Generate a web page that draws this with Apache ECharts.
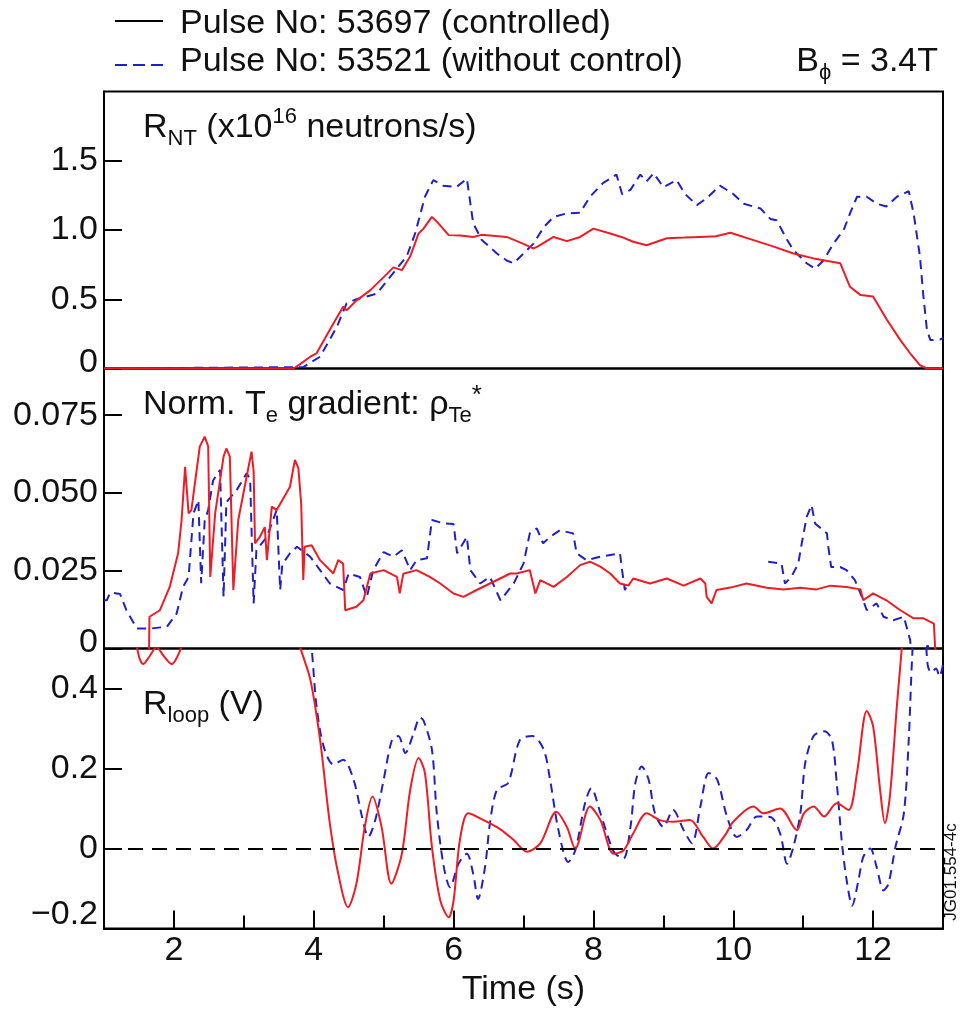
<!DOCTYPE html>
<html><head><meta charset="utf-8">
<script src="https://cdn.jsdelivr.net/npm/echarts@6/dist/echarts.min.js"></script>
<style>html,body{margin:0;padding:0;background:#fff}#c{width:964px;height:1009px}</style>
</head><body><div id="c"></div>
<script>
// ---------- data (time in s, value) ----------
const timeMajorTicks = [2, 4, 6, 8, 10, 12];
const timeMinorTicks = [3, 5, 7, 9, 11];
const rntTicks = [0, 0.5, 1.0, 1.5];
const rntTickLabels = ['0', '0.5', '1.0', '1.5'];
const gradTicks = [0, 0.025, 0.05, 0.075];
const gradTickLabels = ['0', '0.025', '0.050', '0.075'];
const loopTicks = [-0.2, 0, 0.2, 0.4];
const loopTickLabels = ['\u22120.2', '0', '0.2', '0.4'];

const rntControlled = [[1,0],[2,0],[3,0],[3.71,0],[3.8,0.03],[3.95,0.085],[4.04,0.11],[4.23,0.28],[4.42,0.446],[4.47,0.42],[4.61,0.49],[4.81,0.566],[5.0,0.66],[5.14,0.73],[5.26,0.71],[5.38,0.81],[5.5,0.975],[5.57,1.01],[5.69,1.095],[5.78,1.05],[5.93,0.963],[6.1,0.96],[6.28,0.95],[6.4,0.965],[6.52,0.96],[6.76,0.95],[7.0,0.9],[7.14,0.867],[7.2,0.88],[7.43,0.95],[7.62,0.92],[7.81,0.95],[8.0,1.01],[8.24,0.975],[8.4,0.95],[8.57,0.915],[8.76,0.89],[9.05,0.94],[9.3,0.945],[9.53,0.95],[9.75,0.955],[9.96,0.98],[10.29,0.927],[10.58,0.88],[10.86,0.83],[11.15,0.795],[11.53,0.76],[11.67,0.59],[11.82,0.53],[12.0,0.52],[12.2,0.35],[12.39,0.205],[12.53,0.11],[12.67,0.025],[12.77,0],[13,0]];
const rntUncontrolled = [[1,0],[3.85,0.01],[4.09,0.085],[4.33,0.3],[4.47,0.47],[4.61,0.5],[4.9,0.54],[5.09,0.66],[5.33,0.81],[5.45,0.975],[5.59,1.24],[5.71,1.36],[5.85,1.32],[6.04,1.31],[6.19,1.37],[6.28,1.05],[6.4,0.93],[6.62,0.83],[6.76,0.78],[6.86,0.76],[7.0,0.83],[7.14,0.9],[7.29,1.02],[7.43,1.095],[7.62,1.12],[7.81,1.125],[7.95,1.24],[8.14,1.34],[8.33,1.4],[8.41,1.26],[8.53,1.29],[8.67,1.4],[8.76,1.35],[8.86,1.41],[9.0,1.31],[9.19,1.36],[9.31,1.26],[9.48,1.18],[9.62,1.23],[9.81,1.32],[10.0,1.26],[10.15,1.19],[10.39,1.155],[10.53,1.08],[10.62,1.07],[10.77,0.93],[10.86,0.855],[11.05,0.76],[11.17,0.72],[11.29,0.78],[11.43,0.9],[11.58,1.0],[11.67,1.12],[11.77,1.24],[11.91,1.24],[12.05,1.19],[12.19,1.17],[12.34,1.24],[12.51,1.28],[12.58,1.12],[12.67,0.81],[12.72,0.52],[12.77,0.28],[12.82,0.205],[12.96,0.21],[13,0.22]];

const gradControlled = [[1.64,-0.01],[1.65,0.0102],[1.8,0.0123],[1.94,0.0198],[2.06,0.0306],[2.11,0.0413],[2.16,0.0584],[2.21,0.0434],[2.25,0.0445],[2.3,0.0531],[2.37,0.0649],[2.44,0.0681],[2.49,0.065],[2.52,0.023],[2.59,0.0434],[2.71,0.0617],[2.75,0.0643],[2.8,0.0617],[2.85,0.0188],[2.92,0.0413],[3.04,0.0552],[3.11,0.0633],[3.14,0.057],[3.16,0.0338],[3.23,0.0359],[3.3,0.039],[3.33,0.0284],[3.4,0.0456],[3.47,0.0445],[3.66,0.052],[3.73,0.0606],[3.78,0.058],[3.82,0.0467],[3.85,0.022],[3.87,0.0327],[3.97,0.0332],[4.09,0.0284],[4.28,0.0241],[4.35,0.0284],[4.42,0.0273],[4.45,0.0123],[4.61,0.0134],[4.71,0.0155],[4.81,0.0241],[5.0,0.0252],[5.19,0.023],[5.23,0.0177],[5.28,0.024],[5.47,0.0252],[5.66,0.023],[5.81,0.0209],[6.0,0.0177],[6.14,0.0166],[6.33,0.0188],[6.52,0.0209],[6.81,0.0241],[6.9,0.0241],[7.09,0.0252],[7.17,0.0177],[7.24,0.022],[7.43,0.0198],[7.62,0.023],[7.81,0.0268],[7.95,0.0279],[8.1,0.0263],[8.24,0.0241],[8.38,0.0209],[8.5,0.0202],[8.57,0.0225],[8.81,0.0209],[9.05,0.0225],[9.29,0.0202],[9.53,0.0225],[9.6,0.0209],[9.62,0.0166],[9.69,0.0145],[9.76,0.0188],[10.0,0.0198],[10.19,0.0209],[10.48,0.0195],[10.72,0.019],[10.96,0.0195],[11.19,0.019],[11.39,0.0202],[11.62,0.0198],[11.82,0.019],[11.86,0.0155],[12.0,0.0177],[12.19,0.0155],[12.39,0.0123],[12.58,0.0097],[12.72,0.0097],[12.87,0.008],[12.89,-0.001],[12.9,-0.01]];
const gradUncontrolled = [[1,0.0155],[1.04,0.0155],[1.09,0.018],[1.23,0.0175],[1.32,0.0123],[1.47,0.0064],[1.66,0.0064],[1.9,0.007],[2.04,0.0113],[2.13,0.0198],[2.21,0.023],[2.28,0.0434],[2.35,0.0477],[2.39,0.021],[2.44,0.041],[2.49,0.0445],[2.56,0.054],[2.66,0.0574],[2.71,0.0166],[2.75,0.047],[2.9,0.051],[3.04,0.0563],[3.09,0.0545],[3.14,0.0145],[3.18,0.0316],[3.33,0.0359],[3.47,0.0445],[3.52,0.0188],[3.55,0.027],[3.66,0.0306],[3.76,0.0327],[3.95,0.0295],[4.09,0.0252],[4.23,0.0209],[4.42,0.0188],[4.5,0.0241],[4.66,0.023],[4.76,0.0166],[4.85,0.0252],[5.0,0.031],[5.14,0.0295],[5.26,0.0316],[5.38,0.0252],[5.47,0.0284],[5.62,0.029],[5.69,0.0413],[5.86,0.0402],[6.0,0.04],[6.05,0.0306],[6.19,0.0359],[6.24,0.0252],[6.38,0.0209],[6.52,0.023],[6.67,0.0155],[6.86,0.0209],[7.0,0.0273],[7.09,0.037],[7.19,0.0386],[7.28,0.0338],[7.38,0.0359],[7.52,0.038],[7.71,0.037],[7.76,0.0306],[7.9,0.0284],[8.1,0.0295],[8.38,0.0306],[8.41,0.0252],[8.45,0.0188],[8.5,0.021],[9.5,'-'],[10.5,0.0279],[10.69,0.0273],[10.74,0.0209],[10.83,0.023],[10.93,0.0273],[10.98,0.0338],[11.05,0.0423],[11.12,0.0461],[11.17,0.0402],[11.34,0.037],[11.36,0.0327],[11.4,0.0262],[11.53,0.0262],[11.62,0.0252],[11.74,0.022],[11.84,0.0166],[11.91,0.0123],[12.05,0.0145],[12.15,0.0102],[12.29,0.0091],[12.44,0.0102],[12.53,0.0027],[12.56,-0.004],[12.7,-0.003],[12.78,0.001],[12.85,-0.004],[13,-0.005]];

const loopControlled = [[1.45,0.53],[1.5,0.48],[1.56,0.461],[1.65,0.48],[1.75,0.503],[1.86,0.48],[1.97,0.461],[2.05,0.48],[2.11,0.507],[2.3,0.65],[3.0,0.75],[3.6,0.65],[3.8,0.507],[3.95,0.423],[4.09,0.272],[4.23,0.063],[4.35,-0.063],[4.49,-0.147],[4.61,-0.088],[4.73,0.054],[4.84,0.13],[4.97,0.054],[5.11,-0.088],[5.26,-0.013],[5.38,0.147],[5.5,0.226],[5.59,0.189],[5.69,0.004],[5.81,-0.13],[5.93,-0.172],[6.0,-0.13],[6.09,0.021],[6.21,0.088],[6.43,0.071],[6.67,0.048],[6.86,0.021],[7.05,-0.008],[7.24,0.013],[7.47,0.092],[7.62,0.054],[7.74,0.0],[7.95,0.105],[8.1,0.071],[8.29,-0.013],[8.43,-0.005],[8.57,0.038],[8.76,0.088],[8.95,0.071],[9.14,0.067],[9.38,0.071],[9.57,0.029],[9.71,0.0],[9.9,0.038],[10.0,0.067],[10.29,0.105],[10.43,0.088],[10.67,0.1],[10.91,0.046],[11.01,0.088],[11.15,0.105],[11.3,0.08],[11.48,0.113],[11.65,0.096],[11.77,0.189],[11.91,0.344],[12.0,0.306],[12.1,0.147],[12.17,0.063],[12.24,0.13],[12.34,0.356],[12.41,0.5],[12.5,0.7],[12.9,0.9]];
const loopUncontrolled = [[3.9,0.6],[3.97,0.5],[4.04,0.356],[4.14,0.256],[4.28,0.21],[4.42,0.222],[4.57,0.172],[4.69,0.08],[4.78,0.029],[4.88,0.071],[5.0,0.172],[5.12,0.272],[5.21,0.281],[5.31,0.239],[5.43,0.289],[5.52,0.327],[5.57,0.32],[5.69,0.247],[5.76,0.088],[5.86,-0.046],[5.95,-0.097],[6.07,-0.038],[6.19,-0.013],[6.28,-0.063],[6.35,-0.126],[6.45,-0.046],[6.52,0.063],[6.62,0.147],[6.78,0.164],[6.95,0.272],[7.13,0.281],[7.29,0.247],[7.38,0.172],[7.5,0.046],[7.64,-0.034],[7.74,-0.005],[7.88,0.113],[7.97,0.151],[8.1,0.088],[8.24,0.013],[8.31,-0.013],[8.43,-0.025],[8.53,0.054],[8.6,0.164],[8.69,0.205],[8.79,0.172],[8.88,0.088],[9.0,0.054],[9.14,0.096],[9.29,0.046],[9.41,0.013],[9.53,0.105],[9.65,0.189],[9.77,0.172],[9.91,0.08],[10.05,0.029],[10.19,0.046],[10.34,0.08],[10.53,0.079],[10.67,0.038],[10.77,-0.038],[10.86,0.004],[10.96,0.088],[11.03,0.214],[11.15,0.281],[11.3,0.293],[11.41,0.272],[11.48,0.164],[11.56,0.004],[11.63,-0.088],[11.7,-0.143],[11.79,-0.08],[11.86,-0.021],[11.96,0.0],[12.05,-0.046],[12.15,-0.105],[12.22,-0.088],[12.32,0.004],[12.44,0.088],[12.51,0.272],[12.56,0.482],[12.62,0.62],[12.72,0.6],[12.78,0.46],[12.83,0.44],[12.9,0.45],[12.95,0.43],[13,0.46]];

// ---------- styling ----------
const FONT = 'Liberation Sans, Arial, Helvetica, sans-serif';
const RED = '#ee1c24';
const BLUE = '#2020c8';
const FS = 34;

function tickFormatter(ticks, labels, shifted) {
  return function (v) {
    for (let i = 0; i < ticks.length; i++) {
      if (Math.abs(v - ticks[i]) < 1e-7) {
        return shifted && shifted[i] ? '{' + shifted[i] + '|' + labels[i] + '}' : labels[i];
      }
    }
    return '';
  };
}
const labelRich = {
  up6: { fontSize: FS, fontFamily: FONT, color: '#111', padding: [0, 0, 12, 0] },
  up14: { fontSize: FS, fontFamily: FONT, color: '#111', padding: [0, 0, 28, 0] }
};

const grids = [
  { left: 104, right: 21, top: 91.5, height: 277 },
  { left: 104, right: 21, top: 368.5, height: 280 },
  { left: 104, right: 21, top: 648.5, height: 280 }
].map(g => Object.assign(g, { show: true, borderColor: '#000', borderWidth: 2, backgroundColor: 'transparent', containLabel: false }));

function hiddenX(gi) {
  return { type: 'value', gridIndex: gi, min: 1, max: 13, interval: 1,
    axisLine: { show: false, onZero: false }, axisTick: { show: false }, axisLabel: { show: false }, splitLine: { show: false } };
}

function yAxis(gi, min, max, interval, ticks, labels, shifted) {
  return {
    type: 'value', gridIndex: gi, min: min, max: max, interval: interval,
    axisLine: { show: true, onZero: false, lineStyle: { color: '#000', width: 2 } },
    axisTick: { show: true, inside: true, length: 18, customValues: ticks, lineStyle: { color: '#000', width: 2 } },
    axisLabel: { show: true, inside: false, margin: 6, customValues: ticks, fontSize: FS, fontFamily: FONT, color: '#111',
      formatter: tickFormatter(ticks, labels, shifted), rich: labelRich },
    splitLine: { show: false }
  };
}

const option = {
  animation: false,
  backgroundColor: '#fff',
  grid: grids,
  xAxis: [
    hiddenX(0),
    hiddenX(1),
    {
      type: 'value', gridIndex: 2, min: 1, max: 13, interval: 1, position: 'bottom',
      name: 'Time (s)', nameLocation: 'middle', nameGap: 44,
      nameTextStyle: { fontSize: FS, fontFamily: FONT, color: '#111' },
      axisLine: { show: true, onZero: false, lineStyle: { color: '#000', width: 2 } },
      axisTick: { show: true, inside: true, length: 18, customValues: timeMajorTicks, lineStyle: { color: '#000', width: 2 } },
      axisLabel: { show: true, margin: 5, customValues: timeMajorTicks, fontSize: FS, fontFamily: FONT, color: '#111',
        formatter: function (v) { return timeMajorTicks.indexOf(Math.round(v)) >= 0 && Math.abs(v - Math.round(v)) < 1e-7 ? String(Math.round(v)) : ''; } },
      splitLine: { show: false }
    },
    {
      type: 'value', gridIndex: 2, min: 1, max: 13, interval: 1, position: 'bottom', offset: 0,
      axisLine: { show: false, onZero: false },
      axisTick: { show: true, inside: true, length: 13, customValues: timeMinorTicks, lineStyle: { color: '#000', width: 2 } },
      axisLabel: { show: false }, splitLine: { show: false }
    }
  ],
  yAxis: [
    yAxis(0, 0, 2, 0.5, rntTicks, rntTickLabels, ['up6', null, null, null]),
    yAxis(1, 0, 0.09, 0.025, gradTicks, gradTickLabels, ['up6', null, null, null]),
    yAxis(2, -0.2, 0.5, 0.2, loopTicks, loopTickLabels, ['up14', null, null, null])
  ],
  series: [
    { name: 'Pulse No: 53521 (without control)', type: 'line', xAxisIndex: 0, yAxisIndex: 0, data: rntUncontrolled, showSymbol: false, symbol: 'none', clip: true,
      lineStyle: { color: BLUE, width: 2, type: [9, 6] }, z: 2 },
    { name: 'Pulse No: 53697 (controlled)', type: 'line', xAxisIndex: 0, yAxisIndex: 0, data: rntControlled, showSymbol: false, symbol: 'none', clip: true,
      lineStyle: { color: RED, width: 2 }, z: 3 },
    { name: 'Pulse No: 53521 (without control)', type: 'line', xAxisIndex: 1, yAxisIndex: 1, data: gradUncontrolled, showSymbol: false, symbol: 'none', clip: true, connectNulls: false,
      lineStyle: { color: BLUE, width: 2, type: [9, 6] }, z: 2 },
    { name: 'Pulse No: 53697 (controlled)', type: 'line', xAxisIndex: 1, yAxisIndex: 1, data: gradControlled, showSymbol: false, symbol: 'none', clip: true,
      lineStyle: { color: RED, width: 2 }, z: 3 },
    { name: 'Pulse No: 53521 (without control)', type: 'line', xAxisIndex: 2, yAxisIndex: 2, data: loopUncontrolled, showSymbol: false, symbol: 'none', clip: true,
      smooth: 0.3, lineStyle: { color: BLUE, width: 2, type: [9, 6] }, z: 2,
      markLine: { silent: true, symbol: 'none', label: { show: false },
        lineStyle: { color: '#000', width: 2, type: [15, 9] }, data: [{ yAxis: 0 }] } },
    { name: 'Pulse No: 53697 (controlled)', type: 'line', xAxisIndex: 2, yAxisIndex: 2, data: loopControlled, showSymbol: false, symbol: 'none', clip: true,
      smooth: 0.3, lineStyle: { color: RED, width: 2 }, z: 3 }
  ],
  graphic: [
    { type: 'line', shape: { x1: 115, y1: 21, x2: 163, y2: 21 }, style: { stroke: '#000', lineWidth: 2 } },
    { type: 'line', shape: { x1: 115, y1: 65, x2: 163, y2: 65 }, style: { stroke: BLUE, lineWidth: 2, lineDash: [12, 6] } },
    { type: 'text', x: 180, y: 24, style: { text: 'Pulse No: 53697 (controlled)', font: FS + 'px ' + FONT, fill: '#111', align: 'left', verticalAlign: 'middle' } },
    { type: 'text', x: 180, y: 62, style: { text: 'Pulse No: 53521 (without control)', font: FS + 'px ' + FONT, fill: '#111', align: 'left', verticalAlign: 'middle' } },
    { type: 'text', x: 938, y: 62, style: {
        text: '{m|B}{s|\u03d5}{m| = 3.4T}', align: 'right', verticalAlign: 'middle',
        rich: { m: { fontSize: FS, fontFamily: FONT, fill: '#111', lineHeight: 44, verticalAlign: 'middle' },
                s: { fontSize: 22, fontFamily: FONT, fill: '#111', lineHeight: 22, verticalAlign: 'bottom' } } } },
    { type: 'text', x: 143, y: 128, style: {
        text: '{m|R}{s|NT}{m| (x10}{p|16}{m| neutrons/s)}', align: 'left', verticalAlign: 'middle',
        rich: { m: { fontSize: FS, fontFamily: FONT, fill: '#111', lineHeight: 44, verticalAlign: 'middle' },
                s: { fontSize: 22, fontFamily: FONT, fill: '#111', lineHeight: 22, verticalAlign: 'bottom' },
                p: { fontSize: 22, fontFamily: FONT, fill: '#111', lineHeight: 22, verticalAlign: 'top' } } } },
    { type: 'text', x: 143, y: 405, style: {
        text: '{m|Norm. T}{s|e}{m| gradient: \u03c1}{s|Te}{p|*}', align: 'left', verticalAlign: 'middle',
        rich: { m: { fontSize: FS, fontFamily: FONT, fill: '#111', lineHeight: 44, verticalAlign: 'middle' },
                s: { fontSize: 22, fontFamily: FONT, fill: '#111', lineHeight: 22, verticalAlign: 'bottom' },
                p: { fontSize: 26, fontFamily: FONT, fill: '#111', lineHeight: 22, verticalAlign: 'top' } } } },
    { type: 'text', x: 143, y: 705, style: {
        text: '{m|R}{s|loop}{m| (V)}', align: 'left', verticalAlign: 'middle',
        rich: { m: { fontSize: FS, fontFamily: FONT, fill: '#111', lineHeight: 44, verticalAlign: 'middle' },
                s: { fontSize: 22, fontFamily: FONT, fill: '#111', lineHeight: 22, verticalAlign: 'bottom' } } } },
    { type: 'text', x: 951, y: 872, rotation: Math.PI / 2, style: { text: 'JG01.554-4c', font: '17px ' + FONT, fill: '#111', align: 'center', verticalAlign: 'middle' } }
  ]
};

const chart = echarts.init(document.getElementById('c'), null, { renderer: 'canvas', width: 964, height: 1009 });
chart.setOption(option);
</script></body></html>
